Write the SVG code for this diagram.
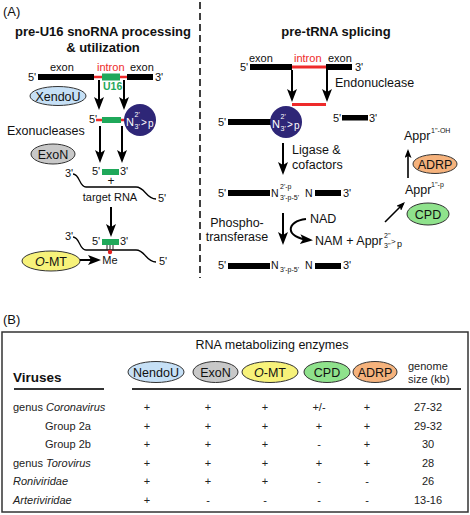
<svg xmlns="http://www.w3.org/2000/svg" width="470" height="515" viewBox="0 0 470 515">
<style>
text{font-family:"Liberation Sans",Arial,sans-serif;fill:#111}
.h{font-weight:bold;font-size:13px}
.l{font-size:12.5px}
.s{font-size:11px}
.e{font-size:12.5px}
.tiny{font-size:7px}
.w{fill:#fff}
.red{fill:#ee2a2a}
.grn{fill:#1fa85a}
.bar{fill:#000}
.rl{stroke:#ee2a2a;stroke-width:2.5;fill:none}
.ar{stroke:#000;stroke-width:2;fill:none;marker-end:url(#ah)}
.as{stroke:#000;stroke-width:1.6;fill:none;marker-end:url(#as)}
.rna{stroke:#000;stroke-width:1.3;fill:none}
.el{stroke:#333;stroke-width:1}
.blue{fill:#c6e0f6}
.gray{fill:#c8c8c8}
.yel{fill:#f7f27a}
.cpd{fill:#8fe28c}
.adrp{fill:#f5b27c}
.nc{fill:#2e2677}
.m{text-anchor:middle}
.tb{font-size:11px;fill:#222;text-anchor:middle}
.tl{font-size:11px;fill:#222}
</style>
<defs>
<marker id="ah" viewBox="0 0 13 10" refX="10" refY="5" markerWidth="13" markerHeight="10" markerUnits="userSpaceOnUse" orient="auto">
<path d="M0,0 L13,5 L0,10 L3,5 z" fill="#000"/>
</marker>
<marker id="as" viewBox="0 0 9 7" refX="7" refY="3.5" markerWidth="9" markerHeight="7" markerUnits="userSpaceOnUse" orient="auto">
<path d="M0,0 L9,3.5 L0,7 L2,3.5 z" fill="#000"/>
</marker>
</defs>

<text x="3" y="16" style="font-size:13px">(A)</text>
<line x1="200" y1="2" x2="200" y2="278" stroke="#000" stroke-width="1.5" stroke-dasharray="7 4"/>

<!-- Left panel -->
<g id="left-title">
<text class="h m" x="103" y="36">pre-U16 snoRNA processing</text>
<text class="h m" x="103" y="52">&amp; utilization</text>
</g>
<g id="pre-u16">
<text class="s" x="50" y="71">exon</text>
<text class="s red" x="97" y="71">intron</text>
<text class="s" x="130" y="71">exon</text>
<text class="s" x="28" y="81">5'</text>
<rect class="bar" x="38" y="74" width="56" height="6"/>
<line class="rl" x1="94" y1="77" x2="102" y2="77"/>
<rect class="grn" x="102" y="73.5" width="18" height="7"/>
<line class="rl" x1="120" y1="77" x2="127" y2="77"/>
<rect class="bar" x="127" y="74" width="26" height="6"/>
<text class="s" x="155" y="81">3'</text>
<text class="grn" x="103" y="90" style="font-size:10.5px;font-weight:bold">U16</text>
</g>
<g id="xendou">
<ellipse class="el blue" cx="58" cy="96" rx="28" ry="9.5"/>
<text class="e m" x="58" y="100.5">XendoU</text>
</g>
<g id="cleaved-u16">
<text class="s" x="89" y="123">5'</text>
<line class="rl" x1="96" y1="120" x2="102" y2="120"/>
<rect class="grn" x="102" y="117" width="19" height="6"/>
<line class="rl" x1="121" y1="120" x2="125" y2="120"/>
<circle class="nc" cx="140" cy="120" r="16"/>
<text class="w" x="126" y="126" style="font-size:11px">N</text>
<text class="w tiny" x="134.5" y="117">2'</text>
<text class="w tiny" x="134.5" y="128.5">3'</text>
<text class="w" x="141" y="126" style="font-size:10px">&gt;</text>
<text class="w" x="148" y="127" style="font-size:10px">p</text>
</g>
<g id="exonucleases">
<text class="l" x="7" y="135">Exonucleases</text>
<ellipse class="el gray" cx="53" cy="154" rx="22" ry="10"/>
<text class="e m" x="53" y="158.5">ExoN</text>
</g>
<g id="mature-u16">
<text class="s" x="92" y="175">5'</text>
<rect class="grn" x="102" y="169" width="17" height="6"/>
<text class="s" x="120" y="175">3'</text>
<text class="m" x="111" y="185" style="font-size:12px">+</text>
<text class="s" x="65" y="177">3'</text>
<path class="rna" d="M73,174 C80,174 79,187 86,187 L136,187 C145,187 146,199 156,199"/>
<text class="s m" x="110" y="201">target RNA</text>
<text class="s" x="158" y="202">5'</text>
</g>
<g id="duplex">
<text class="s" x="65" y="240">3'</text>
<path class="rna" d="M73,237 C80,237 79,250 86,250 L136,250 C145,250 146,262 156,262"/>
<text class="s" x="159" y="265">5'</text>
<text class="s" x="92" y="245">5'</text>
<rect class="grn" x="102" y="239" width="17" height="6"/>
<text class="s" x="120" y="245">3'</text>
<path d="M107,245 V250 M110,245 V250 M113,245 V250" stroke="#222" stroke-width="1"/>
<circle cx="110" cy="252" r="2.2" fill="#e02020"/>
<text class="s m" x="110" y="264">Me</text>
</g>
<g id="omt">
<ellipse class="el yel" cx="51" cy="261" rx="29" ry="10"/>
<text class="e m" x="51" y="265.5"><tspan font-style="italic">O</tspan>-MT</text>
</g>

<!-- Right panel -->
<g id="right-title">
<text class="h m" x="336" y="36">pre-tRNA splicing</text>
</g>
<g id="pre-trna">
<text class="s" x="249" y="62">exon</text>
<text class="s red" x="294" y="62">intron</text>
<text class="s" x="328" y="62">exon</text>
<text class="s" x="240" y="71">5'</text>
<rect class="bar" x="250" y="64" width="42" height="6"/>
<line x1="292" y1="67" x2="326" y2="67" stroke="#ee2a2a" stroke-width="3"/>
<rect class="bar" x="326" y="64" width="26" height="6"/>
<text class="s" x="355" y="71">3'</text>
</g>
<g id="endonuclease">
<text class="l" x="335" y="87">Endonuclease</text>
</g>
<g id="intron-excised">
<rect fill="#ee2a2a" x="292" y="103" width="34" height="3"/>
</g>
<g id="exon3">
<text class="s" x="333" y="122">5'</text>
<rect class="bar" x="342" y="115" width="26" height="5.5"/>
<text class="s" x="369" y="122">3'</text>
</g>
<g id="exon5-cyclic">
<text class="s" x="218" y="126">5'</text>
<rect class="bar" x="228" y="119" width="44" height="6"/>
<circle class="nc" cx="286" cy="122" r="16"/>
<text class="w" x="272" y="128" style="font-size:11px">N</text>
<text class="w tiny" x="280.5" y="119">2'</text>
<text class="w tiny" x="280.5" y="130.5">3'</text>
<text class="w" x="287" y="128" style="font-size:10px">&gt;</text>
<text class="w" x="294" y="129" style="font-size:10px">p</text>
</g>
<g id="ligase">
<text class="l" x="292" y="154">Ligase &amp;</text>
<text class="l" x="292" y="168.5">cofactors</text>
</g>
<g id="ligated">
<text class="s" x="218" y="197">5'</text>
<rect class="bar" x="228" y="190" width="42" height="6"/>
<text x="271" y="197" style="font-size:10.5px">N</text>
<text x="280" y="189" style="font-size:7px">2'-p</text>
<text x="280" y="200" style="font-size:7px">3'-p-5'</text>
<text x="305" y="197" style="font-size:10.5px">N</text>
<rect class="bar" x="315" y="190" width="26" height="6"/>
<text class="s" x="343" y="197">3'</text>
</g>
<g id="phosphotransferase">
<text class="l m" x="237" y="227">Phospho-</text>
<text class="l m" x="237" y="241">transferase</text>
</g>
<g id="nad">
<text class="l" x="310" y="223">NAD</text>
</g>
<g id="nam-appr">
<text class="l" x="315" y="245">NAM + Appr</text>
<text x="384" y="238" style="font-size:7px">2''</text>
<text x="384" y="248" style="font-size:7px">3''</text>
<text x="391" y="244" style="font-size:8px">&gt;</text>
<text x="397" y="247" style="font-size:9px">p</text>
</g>
<g id="mature-trna">
<text class="s" x="218" y="269">5'</text>
<rect class="bar" x="228" y="263" width="42" height="6"/>
<text x="271" y="269" style="font-size:10.5px">N</text>
<text x="280" y="272" style="font-size:7px">3'-p-5'</text>
<text x="305" y="269" style="font-size:10.5px">N</text>
<rect class="bar" x="315" y="263" width="26" height="6"/>
<text class="s" x="343" y="269">3'</text>
</g>
<g id="appr-p">
<text class="l" x="405" y="194">Appr</text>
<text x="431" y="187" style="font-size:7px">1''-p</text>
</g>
<g id="cpd">
<ellipse class="el cpd" cx="428" cy="214" rx="21" ry="11"/>
<text class="e m" x="428" y="218.5">CPD</text>
</g>
<g id="adrp">
<ellipse class="el adrp" cx="435" cy="164" rx="22" ry="9.5"/>
<text class="e m" x="435" y="168.5">ADRP</text>
</g>
<g id="appr-oh">
<text class="l" x="404" y="140">Appr</text>
<text x="431" y="133" style="font-size:7px">1''-OH</text>
</g>

<g id="connectors">
<line class="ar" x1="99" y1="80" x2="99" y2="107"/>
<line class="ar" x1="124" y1="80" x2="124" y2="107"/>
<line class="ar" x1="100" y1="126" x2="100" y2="160"/>
<line class="ar" x1="122" y1="126" x2="122" y2="160"/>
<line class="ar" x1="111" y1="207" x2="111" y2="234"/>
<line class="ar" x1="80" y1="260" x2="98" y2="260"/>
<line class="ar" x1="292" y1="70" x2="292" y2="99"/>
<line class="ar" x1="327" y1="70" x2="327" y2="99"/>
<line class="ar" x1="283" y1="143" x2="283" y2="172"/>
<line class="ar" x1="283" y1="213" x2="283" y2="242"/>
<path class="ar" d="M306,219 C286,221 284,238 310,240"/>
<line class="as" x1="385" y1="222" x2="403.5" y2="203.5"/>
<line class="as" x1="408" y1="178" x2="408" y2="151"/>
</g>

<!-- Panel B -->
<text x="3" y="324" style="font-size:13px">(B)</text>
<g id="table">
<rect x="2" y="332" width="466" height="180" fill="none" stroke="#333" stroke-width="1.5"/>
<text class="m" x="272" y="349" style="font-size:12.5px">RNA metabolizing enzymes</text>
<text x="13" y="382" style="font-size:13.5px;font-weight:bold">Viruses</text>
<line x1="14" y1="389" x2="104" y2="389" stroke="#333" stroke-width="2"/>
<line x1="132" y1="389" x2="461" y2="389" stroke="#333" stroke-width="2"/>
<text class="tl" x="408" y="370">genome</text>
<text class="tl" x="408" y="383">size (kb)</text>
</g>
<g id="h-nendou">
<ellipse class="el blue" cx="156" cy="372" rx="28" ry="10.5"/>
<text class="e m" x="156" y="376.5">NendoU</text>
</g>
<g id="h-exon">
<ellipse class="el gray" cx="215.5" cy="372" rx="22.5" ry="10.5"/>
<text class="e m" x="215.5" y="376.5">ExoN</text>
</g>
<g id="h-omt">
<ellipse class="el yel" cx="270" cy="372" rx="28" ry="10.5"/>
<text class="e m" x="270" y="376.5"><tspan font-style="italic">O</tspan>-MT</text>
</g>
<g id="h-cpd">
<ellipse class="el cpd" cx="327" cy="372" rx="23" ry="10.5"/>
<text class="e m" x="327" y="376.5">CPD</text>
</g>
<g id="h-adrp">
<ellipse class="el adrp" cx="375" cy="372" rx="22" ry="10.5"/>
<text class="e m" x="375" y="376.5">ADRP</text>
</g>
<g id="rows">
<text class="tl" x="13" y="411">genus <tspan font-style="italic">Coronavirus</tspan></text>
<text class="tl" x="45" y="429.5">Group 2a</text>
<text class="tl" x="45" y="448">Group 2b</text>
<text class="tl" x="13" y="466.5">genus <tspan font-style="italic">Torovirus</tspan></text>
<text class="tl" x="13" y="485" font-style="italic">Roniviridae</text>
<text class="tl" x="13" y="503.5" font-style="italic">Arteriviridae</text>

<text class="tb" x="147" y="411">+</text><text class="tb" x="208" y="411">+</text><text class="tb" x="265" y="411">+</text><text class="tb" x="319" y="411">+/-</text><text class="tb" x="367" y="411">+</text><text class="tb" x="428" y="411">27-32</text>
<text class="tb" x="147" y="429.5">+</text><text class="tb" x="208" y="429.5">+</text><text class="tb" x="265" y="429.5">+</text><text class="tb" x="319" y="429.5">+</text><text class="tb" x="367" y="429.5">+</text><text class="tb" x="428" y="429.5">29-32</text>
<text class="tb" x="147" y="448">+</text><text class="tb" x="208" y="448">+</text><text class="tb" x="265" y="448">+</text><text class="tb" x="319" y="448">-</text><text class="tb" x="367" y="448">+</text><text class="tb" x="428" y="448">30</text>
<text class="tb" x="147" y="466.5">+</text><text class="tb" x="208" y="466.5">+</text><text class="tb" x="265" y="466.5">+</text><text class="tb" x="319" y="466.5">+</text><text class="tb" x="367" y="466.5">+</text><text class="tb" x="428" y="466.5">28</text>
<text class="tb" x="147" y="485">+</text><text class="tb" x="208" y="485">+</text><text class="tb" x="265" y="485">+</text><text class="tb" x="319" y="485">-</text><text class="tb" x="367" y="485">-</text><text class="tb" x="428" y="485">26</text>
<text class="tb" x="147" y="503.5">+</text><text class="tb" x="208" y="503.5">-</text><text class="tb" x="265" y="503.5">-</text><text class="tb" x="319" y="503.5">-</text><text class="tb" x="367" y="503.5">-</text><text class="tb" x="428" y="503.5">13-16</text>
</g>
</svg>
